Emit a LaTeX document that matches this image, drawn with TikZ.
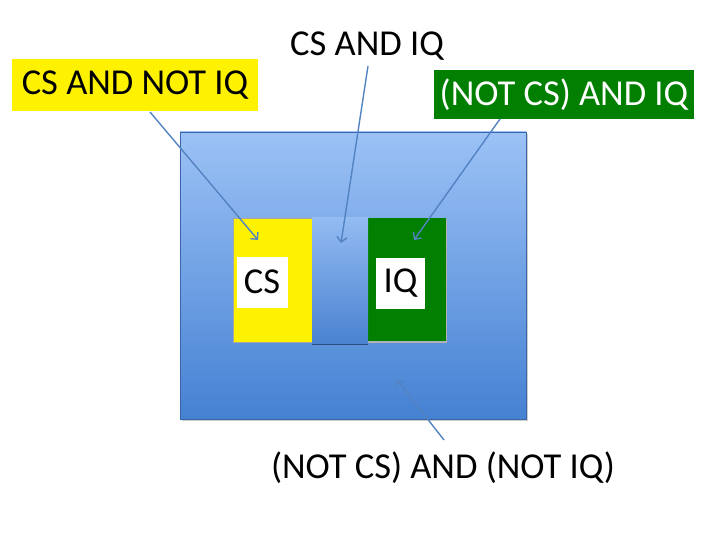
\documentclass[tikz,border=0pt]{standalone}
\usepackage{fontspec}
\setmainfont{Carlito}
\usetikzlibrary{arrows.meta}
\definecolor{boxtop}{HTML}{9CC2F6}
\definecolor{boxbot}{HTML}{4581D2}
\definecolor{midtop}{HTML}{93BBF2}
\definecolor{midbot}{HTML}{4A82D0}
\definecolor{arrowc}{HTML}{5283C2}
\definecolor{gr}{HTML}{007F00}
\begin{document}
\begin{tikzpicture}[x=1pt,y=-1pt,
  bigfont/.style={font=\fontsize{36.5}{40}\selectfont},
  lbl/.style={bigfont, inner sep=0pt, text=black},
  arr/.style={draw=arrowc, line width=1.4pt, -{Straight Barb[length=5pt,width=10pt]}}]
\useasboundingbox (0,0) rectangle (720,540);
% outer universe
\fill[gray!40] (182,134) rectangle (528,421);
\shade[top color=boxtop, bottom color=boxbot, draw=boxbot!80!black, line width=0.3pt] (180,132) rectangle (526,419);
% inner sets
\fill[gray!60] (234,219) rectangle (447,343);
\fill[yellow, draw=gray!70, line width=0.3pt] (233,218) rectangle (312,342);
\fill[gr] (368,218) rectangle (446,341);
\shade[top color=midtop, bottom color=midbot] (312,218) rectangle (368,344);
\draw[boxbot!60!black, line width=1pt] (312,344) -- (368,344);
\coordinate (ycs) at (258,240);
\coordinate (mid) at (341,243);
\coordinate (giq) at (414,240);
\coordinate (outer) at (397,380);
% white label boxes
\node[fill=white, minimum width=51pt, minimum height=51pt, inner sep=0pt, bigfont] (cs) at (262,282) {CS};
\node[fill=white, minimum width=49pt, minimum height=51pt, inner sep=0pt, bigfont] (iq) at (400.5,283.5) {IQ};
% labels
\node[fill=yellow, minimum width=246pt, minimum height=52pt, inner sep=0pt, bigfont] (l1) at (135,85) {CS AND NOT IQ};
\node[lbl] (l2) at (367,46) {CS AND IQ};
\node[fill=gr, text=white, minimum width=260pt, minimum height=49pt, inner sep=0pt, bigfont] (l3) at (564,94.5) {(NOT CS) AND IQ};
\node[lbl] (l4) at (443,468) {(NOT CS) AND (NOT IQ)};
% arrows
\draw[arr] (150,112) -- (ycs);
\draw[arr] (368,66) -- (mid);
\draw[arr] (500,119) -- (giq);
\draw[arr] (444,440) -- (outer);
\end{tikzpicture}
\end{document}
